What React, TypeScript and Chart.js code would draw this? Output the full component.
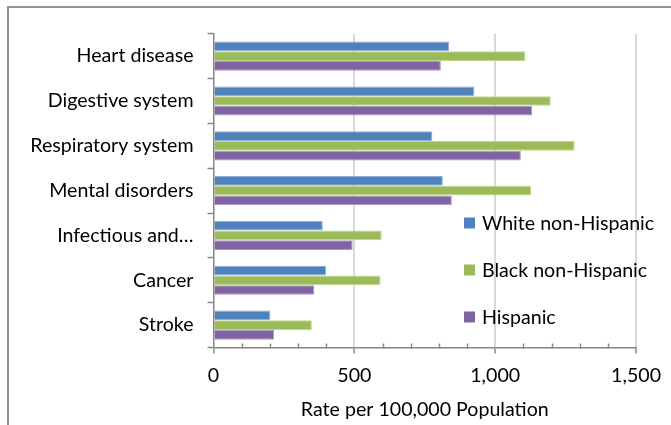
import React, { useEffect, useRef } from "react";
import { Chart, registerables } from "chart.js";

Chart.register(...registerables);

const categories = [
  "Heart disease",
  "Digestive system",
  "Respiratory system",
  "Mental disorders",
  "Infectious and…",
  "Cancer",
  "Stroke",
];
const whiteNonHispanic = [836, 926, 777, 814, 388, 400, 202];
const blackNonHispanic = [1107, 1197, 1282, 1127, 597, 593, 349];
const hispanic = [807, 1131, 1091, 846, 494, 358, 215];
const seriesNames = ["White non-Hispanic", "Black non-Hispanic", "Hispanic"];
const xTicks = [0, 500, 1000, 1500];
const minorStep = 100;
const axisTitle = "Rate per 100,000 Population";

const FONT = "Lato";
const FS = 19.6;
const AXIS_GRAY = "#868686";

const overlayPlugin = {
  id: "overlay",
  afterDraw(chart: any) {
    const ctx = chart.ctx;
    const xs = chart.scales.x;
    const area = chart.chartArea;
    ctx.save();
    ctx.strokeStyle = AXIS_GRAY;
    ctx.lineWidth = 1.5;
    for (let v = minorStep; v < xs.max; v += minorStep) {
      if (v % 500 === 0) continue;
      const px = Math.round(xs.getPixelForValue(v)) + 0.5;
      ctx.beginPath();
      ctx.moveTo(px, area.bottom - 4);
      ctx.lineTo(px, area.bottom + 1);
      ctx.stroke();
    }
    const lx = 455;
    const ys = [215, 262, 309];
    ctx.font = `${FS}px ${FONT}`;
    ctx.textBaseline = "middle";
    ctx.textAlign = "left";
    chart.data.datasets.forEach((ds: any, i: number) => {
      ctx.fillStyle = ds.backgroundColor;
      ctx.fillRect(lx, ys[i] - 5.5, 11, 11);
      ctx.fillStyle = "#000";
      ctx.fillText(seriesNames[i], lx + 18, ys[i] + 1);
    });
    ctx.restore();
  },
};

export default function App() {
  const ref = useRef<HTMLCanvasElement>(null);
  useEffect(() => {
    if (!ref.current) return;
    const chart = new Chart(ref.current, {
      type: "bar",
      data: {
        labels: categories,
        datasets: [
          {
            label: seriesNames[0],
            data: whiteNonHispanic,
            backgroundColor: "#4F81BD",
            borderColor: "#8fb0da",
            borderWidth: 1,
          },
          {
            label: seriesNames[1],
            data: blackNonHispanic,
            backgroundColor: "#9BBB59",
            borderColor: "#bfd68f",
            borderWidth: 1,
          },
          {
            label: seriesNames[2],
            data: hispanic,
            backgroundColor: "#8064A2",
            borderColor: "#ab97c6",
            borderWidth: 1,
          },
        ],
      },
      options: {
        indexAxis: "y",
        responsive: false,
        animation: false,
        datasets: { bar: { categoryPercentage: 0.65, barPercentage: 1 } },
        layout: { padding: { top: 23.7, right: 33.5, left: 0, bottom: 0 } },
        plugins: { legend: { display: false }, tooltip: { enabled: false } },
        scales: {
          x: {
            type: "linear",
            min: 0,
            max: 1500,
            afterBuildTicks: (s: any) => {
              s.ticks = xTicks.map((v) => ({ value: v }));
            },
            afterFit: (s: any) => {
              s.height = 77.5;
            },
            ticks: {
              color: "#000",
              font: { family: FONT, size: FS },
              padding: 10,
              callback: (v: any) => Number(v).toLocaleString("en-US"),
            },
            grid: {
              color: (c: any) => (c.tick && c.tick.value === 0 ? "rgba(0,0,0,0)" : "#d9d9d9"),
              lineWidth: 2,
              tickColor: AXIS_GRAY,
              tickLength: 6,
              tickWidth: 1.5,
            },
            border: { color: AXIS_GRAY, width: 1.5 },
            title: {
              display: true,
              text: axisTitle,
              color: "#000",
              font: { family: FONT, size: FS },
              padding: { top: 0, bottom: 4 },
            },
          },
          y: {
            afterFit: (s: any) => {
              s.width = 204.5;
            },
            ticks: {
              color: "#000",
              font: { family: FONT, size: FS },
              padding: 14,
              autoSkip: false,
            },
            grid: {
              drawOnChartArea: false,
              offset: true,
              tickColor: AXIS_GRAY,
              tickLength: 6,
              tickWidth: 1.5,
            },
            border: { color: AXIS_GRAY, width: 1.5 },
          },
        },
      },
      plugins: [overlayPlugin],
    } as any);
    return () => chart.destroy();
  }, []);

  return (
    <div
      style={{
        position: "absolute",
        left: 7,
        top: 6,
        width: 664,
        height: 419,
        overflow: "hidden",
      }}
    >
      <div
        style={{
          borderTop: "2px solid #939393",
          borderLeft: "2px solid #939393",
          width: 700,
          height: 500,
          boxSizing: "border-box",
        }}
      >
        <canvas ref={ref} width={662} height={417} style={{ display: "block" }} />
      </div>
    </div>
  );
}
